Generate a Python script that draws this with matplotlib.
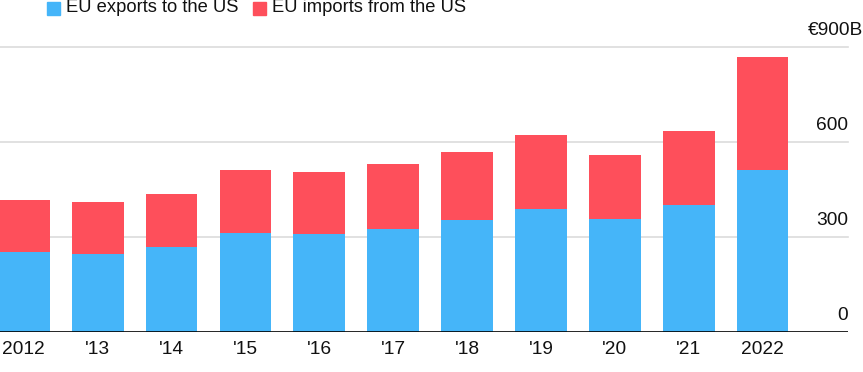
import numpy as np
import matplotlib.pyplot as plt

plt.rcParams['font.family'] = ['Liberation Sans', 'DejaVu Sans']

# data (EUR billions)
years = ["2012", "'13", "'14", "'15", "'16", "'17", "'18", "'19", "'20", "'21", "2022"]
exports_to_us = [250, 246, 267, 311, 310, 324, 353, 387, 355, 400, 512]
imports_from_us = [167, 165, 169, 200, 195, 206, 214, 235, 203, 235, 357]
ytick_vals = [0, 300, 600, 900]
ytick_labels = ["0", "300", "600", "€900B"]

blue = "#45b5f9"
red = "#fe4f5b"

W, H = 863, 372
fig = plt.figure(figsize=(W / 100, H / 100), dpi=100)
ax = fig.add_axes([0, (H - 331.5) / H, 848 / W, (331.5 - 47) / H])

x = np.arange(len(years))
ax.bar(x, exports_to_us, width=0.70, color=blue, zorder=3)
ax.bar(x, imports_from_us, bottom=exports_to_us, width=0.70, color=red, zorder=3)

ax.set_xlim(-0.322, 11.157)
ax.set_ylim(0, 900)

for v in ytick_vals[1:]:
    ax.axhline(v, color="#dcdcdc", lw=1.2, zorder=1, clip_on=False)
ax.axhline(0, color="black", lw=1.2, zorder=4)

for v, lab in zip(ytick_vals, ytick_labels):
    xpos = 1.0 if lab != "€900B" else 863 / 848
    ax.annotate(lab, xy=(xpos, v), xycoords=("axes fraction", "data"),
                xytext=(0, 5.5), textcoords="offset points",
                ha="right", va="bottom", fontsize=13.8, color="#111111")

ax.set_xticks(x)
ax.set_xticklabels(years, fontsize=13.8, color="#111111")
ax.tick_params(axis="x", length=0, pad=7)
ax.set_yticks([])
for s in ax.spines.values():
    s.set_visible(False)

# legend at top left
fig.patches.append(plt.Rectangle((47 / W, 1 - 15 / H), 13 / W, 13 / H,
                                 transform=fig.transFigure, color=blue))
fig.text(66 / W, 1 - 8 / H, "EU exports to the US", fontsize=13.2, va="center", ha="left", color="#111111")
fig.patches.append(plt.Rectangle((253 / W, 1 - 15 / H), 13 / W, 13 / H,
                                 transform=fig.transFigure, color=red))
fig.text(272 / W, 1 - 8 / H, "EU imports from the US", fontsize=13.2, va="center", ha="left", color="#111111")

fig.savefig("out.png", dpi=100)
